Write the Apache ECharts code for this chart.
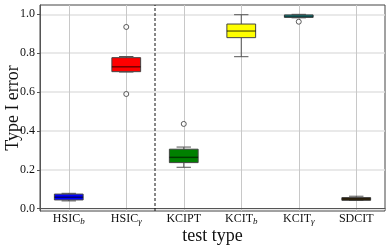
<!DOCTYPE html>
<html>
<head>
<meta charset="utf-8">
<script src="https://cdn.jsdelivr.net/npm/echarts@6/dist/echarts.min.js"></script>
<style>html,body{margin:0;padding:0;background:#fff}#c{width:390px;height:251px}</style>
</head>
<body>
<div id="c"></div>
<script>
var categories = ['HSIC{s|b}', 'HSIC{s|γ}', 'KCIPT', 'KCIT{s|b}', 'KCIT{s|γ}', 'SDCIT'];
// [min, Q1, median, Q3, max]
var boxValues = [
  [0.040, 0.045, 0.059, 0.075, 0.079],
  [0.703, 0.705, 0.730, 0.777, 0.783],
  [0.213, 0.237, 0.264, 0.306, 0.317],
  [0.782, 0.880, 0.914, 0.950, 0.998],
  [0.982, 0.984, 0.990, 0.997, 1.000],
  [0.042, 0.043, 0.050, 0.057, 0.064]
];
var boxColors = ['#0000ff', '#ff0000', '#008000', '#ffff00', '#1aa6a6', '#4a3510'];
// outliers: [category index, value]
var outliers = [[1, 0.935], [1, 0.590], [2, 0.436], [4, 0.962]];
var yTicks = [0, 0.2, 0.4, 0.6, 0.8, 1.0];
var yMin = -0.012, yMax = 1.048;
var separatorAt = 2;

var chart = echarts.init(document.getElementById('c'));
var font = 'Liberation Serif';
var boxData = boxValues.map(function (v, i) { return [i].concat(v); });

chart.setOption({
  animation: false,
  grid: { left: 40, right: 5, top: 5, bottom: 40, outerBoundsMode: 'none', containLabel: false,
    show: true, borderColor: '#444', borderWidth: 1 },
  xAxis: [{
    type: 'category',
    data: categories,
    boundaryGap: true,
    name: 'test type',
    nameLocation: 'middle',
    nameGap: 16,
    nameMoveOverlap: false,
    nameTextStyle: { fontFamily: font, fontSize: 18, color: '#111' },
    axisLine: { lineStyle: { color: '#555' } },
    axisTick: { alignWithLabel: true, length: 3, lineStyle: { color: '#555' } },
    axisLabel: {
      margin: 0, fontFamily: font, fontSize: 12, lineHeight: 16, color: '#111', interval: 0,
      rich: { s: { fontFamily: font, fontSize: 9, lineHeight: 10, fontStyle: 'italic', color: '#111', padding: [6, 0, 0, 0] } }
    },
    splitLine: { show: false }
  }, {
    type: 'value', min: 0, max: 6, position: 'bottom',
    axisLine: { show: false },
    axisTick: { show: false, customValues: [0.5, 1.5, 2.5, 3.5, 4.5, 5.5] },
    axisLabel: { show: false },
    splitLine: { show: true, lineStyle: { color: '#c8c8c8', width: 1 } }
  }],
  yAxis: {
    type: 'value', min: yMin, max: yMax,
    name: 'Type I error',
    nameLocation: 'middle',
    nameGap: 18,
    nameMoveOverlap: false,
    nameTextStyle: { fontFamily: font, fontSize: 18, color: '#111' },
    axisLine: { show: true, lineStyle: { color: '#555' } },
    axisTick: { show: true, length: 3, customValues: yTicks, lineStyle: { color: '#555' } },
    axisLabel: { margin: 5, fontFamily: font, fontSize: 12, color: '#111', customValues: yTicks,
      formatter: function (v) { return v.toFixed(1); } },
    splitLine: { show: true, lineStyle: { color: '#e2e2e2', width: 1.5 } }
  },
  series: [{
    type: 'custom',
    xAxisIndex: 0,
    data: boxData,
    z: 3,
    renderItem: function (params, api) {
      var i = api.value(0);
      var band = api.size([1, 0])[0];
      var bw = band * 0.5, cw = band * 0.25;
      var pMin = api.coord([i, api.value(1)]);
      var pQ1 = api.coord([i, api.value(2)]);
      var pMed = api.coord([i, api.value(3)]);
      var pQ3 = api.coord([i, api.value(4)]);
      var pMax = api.coord([i, api.value(5)]);
      var x = pMed[0];
      var stroke = { stroke: '#555', lineWidth: 1 };
      return {
        type: 'group',
        children: [
          { type: 'line', shape: { x1: x, y1: pQ1[1], x2: x, y2: pMin[1] }, style: stroke },
          { type: 'line', shape: { x1: x, y1: pQ3[1], x2: x, y2: pMax[1] }, style: stroke },
          { type: 'line', shape: { x1: x - cw / 2, y1: pMin[1], x2: x + cw / 2, y2: pMin[1] }, style: stroke },
          { type: 'line', shape: { x1: x - cw / 2, y1: pMax[1], x2: x + cw / 2, y2: pMax[1] }, style: stroke },
          { type: 'rect', shape: { x: x - bw / 2, y: pQ3[1], width: bw, height: pQ1[1] - pQ3[1] },
            style: { fill: boxColors[i], stroke: '#444', lineWidth: 1 } },
          { type: 'line', shape: { x1: x - bw / 2, y1: pMed[1], x2: x + bw / 2, y2: pMed[1] },
            style: { stroke: 'rgba(0,0,0,0.55)', lineWidth: 1.5 } }
        ]
      };
    }
  }, {
    type: 'scatter',
    xAxisIndex: 0,
    data: outliers,
    symbol: 'circle',
    symbolSize: 5,
    itemStyle: { color: '#fff', borderColor: '#333', borderWidth: 1 },
    z: 4
  }, {
    type: 'line',
    xAxisIndex: 1,
    data: [[separatorAt, yMin], [separatorAt, yMax]],
    symbol: 'none',
    lineStyle: { color: '#111', width: 1, type: [3, 2] },
    z: 2
  }]
});
</script>
</body>
</html>
